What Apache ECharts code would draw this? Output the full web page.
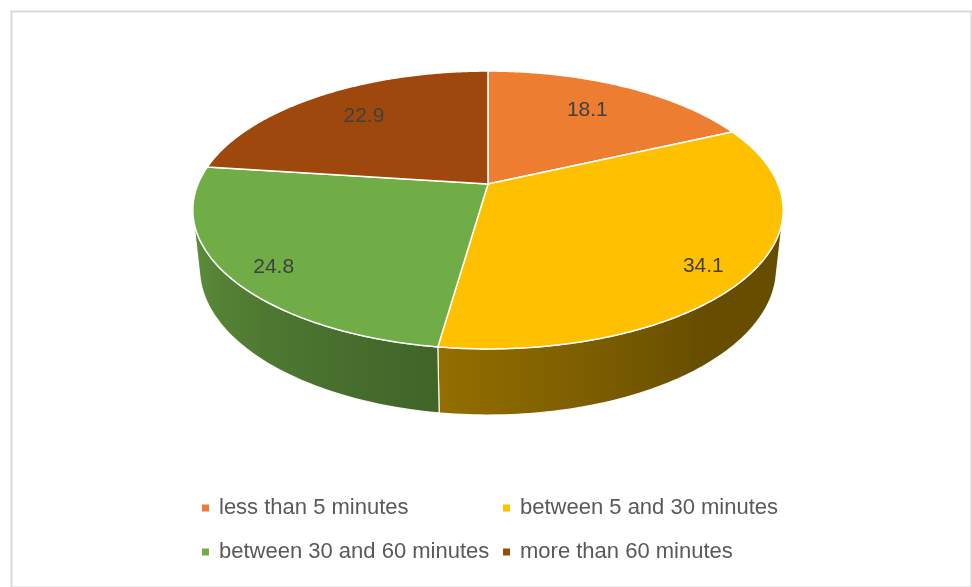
<!DOCTYPE html>
<html>
<head>
<meta charset="utf-8">
<script src="https://cdn.jsdelivr.net/npm/echarts@6/dist/echarts.min.js"></script>
<style>
html,body{margin:0;padding:0;background:#fff;}
#chart{width:972px;height:587px;}
</style>
</head>
<body>
<div id="chart"></div>
<script>
// ---- data ----
const categories = ['less than 5 minutes', 'between 5 and 30 minutes', 'between 30 and 60 minutes', 'more than 60 minutes'];
const values = [18.1, 34.1, 24.8, 22.9];
const colors = ['#ED7D31', '#FFC000', '#70AD47', '#9E480E'];

// ---- 3D projection (perspective tilted disc) ----
const CX = 488, CY = 184, F = 1375, D = 4.742, SA = 0.4624, CA = 0.8867, H = 0.229;
function projXZ(X, Z, y) {
  const zc = D + Z * CA - y * SA;
  const yc = y * CA + Z * SA;
  return [CX + F * X / zc, CY - F * yc / zc];
}
function proj(theta, r, y) {
  return projXZ(r * Math.sin(theta), r * Math.cos(theta), y);
}
const total = values.reduce((a, b) => a + b, 0);
const DEG = Math.PI / 180;
// visible side range (contour generators of the cylinder)
const cosLim = -1 / (D * CA);
const visA = Math.acos(cosLim), visB = 2 * Math.PI - Math.acos(cosLim);

function shade(hex, b) {
  const n = parseInt(hex.slice(1), 16);
  const r = Math.round(((n >> 16) & 255) * b), g = Math.round(((n >> 8) & 255) * b), bl = Math.round((n & 255) * b);
  return 'rgb(' + r + ',' + g + ',' + bl + ')';
}
function brightness(theta) {
  const d = theta / DEG;
  return Math.max(0.4, Math.min(0.9, 0.4 + (d - 140) * 0.0037));
}

function makeRender(idx) {
  return function (params, api) {
    const v = api.value(0);
    let before = 0;
    for (let j = 0; j < idx; j++) before += values[j];
    const a = before / total * 2 * Math.PI;
    const b = (before + v) / total * 2 * Math.PI;
    const children = [];
    // side
    const sa = Math.max(a, visA), sb = Math.min(b, visB);
    if (sb > sa) {
      const n = Math.max(4, Math.ceil((sb - sa) / DEG));
      const topPts = [], botPts = [], stops = [];
      for (let k = 0; k <= n; k++) {
        const t = sa + (sb - sa) * k / n;
        const p = proj(t, 1, 0);
        topPts.push(p);
        botPts.push(proj(t, 1, -H));
        stops.push({ offset: Math.min(1, Math.max(0, p[0] / 972)), color: shade(colors[idx], brightness(t)) });
      }
      stops.sort((m, q) => m.offset - q.offset);
      const pts = topPts.concat(botPts.reverse());
      children.push({
        type: 'polygon', z2: 1,
        shape: { points: pts },
        style: {
          fill: new echarts.graphic.LinearGradient(0, 0, 972, 0, stops, true),
          stroke: 'rgba(255,255,255,0.9)', lineWidth: 1.2, lineJoin: 'round'
        }
      });
    }
    // top face
    const m = Math.max(4, Math.ceil((b - a) / (0.5 * DEG)));
    const top = [[CX, CY]];
    for (let k = 0; k <= m; k++) top.push(proj(a + (b - a) * k / m, 1, 0));
    children.push({
      type: 'polygon', z2: 10,
      shape: { points: top },
      style: { fill: colors[idx], stroke: '#ffffff', lineWidth: 1.5, lineJoin: 'round' }
    });
    // label
    const mid = (a + b) / 2;
    const c = Math.cos(mid), s = Math.sin(mid);
    const rx = 0.78 - 0.085 * c, rz = 0.84 - 0.135 * c;
    const lp = projXZ(rx * s, rz * c, 0);
    children.push({
      type: 'text', z2: 20,
      x: lp[0], y: lp[1],
      style: {
        text: String(v), fill: '#404040',
        font: '21px "Liberation Sans", Arial, sans-serif',
        align: 'center', verticalAlign: 'middle'
      }
    });
    return { type: 'group', children: children };
  };
}

const chart = echarts.init(document.getElementById('chart'), null, { renderer: 'canvas' });
const legendText = { fontFamily: '"Liberation Sans", Arial, sans-serif', fontSize: 22, color: '#595959', padding: [0, 0, 0, 5], lineHeight: 22 };
chart.setOption({
  animation: false,
  backgroundColor: '#ffffff',
  graphic: [{
    type: 'rect', left: 9, top: 9,
    shape: { width: 960, height: 576 },
    style: { fill: 'none', stroke: '#D9D9D9', lineWidth: 2 }, silent: true
  }],
  legend: [{
    data: [categories[0], categories[2]],
    orient: 'vertical', left: 197, top: 492,
    icon: 'rect', itemWidth: 7, itemHeight: 7, itemGap: 22,
    selectedMode: false, textStyle: legendText
  }, {
    data: [categories[1], categories[3]],
    orient: 'vertical', left: 498, top: 492,
    icon: 'rect', itemWidth: 7, itemHeight: 7, itemGap: 22,
    selectedMode: false, textStyle: legendText
  }],
  series: categories.map((name, i) => ({
    type: 'custom', name: name, coordinateSystem: 'none',
    renderItem: makeRender(i),
    itemStyle: { color: colors[i] },
    data: [[values[i]]],
    silent: true
  }))
});
</script>
</body>
</html>
